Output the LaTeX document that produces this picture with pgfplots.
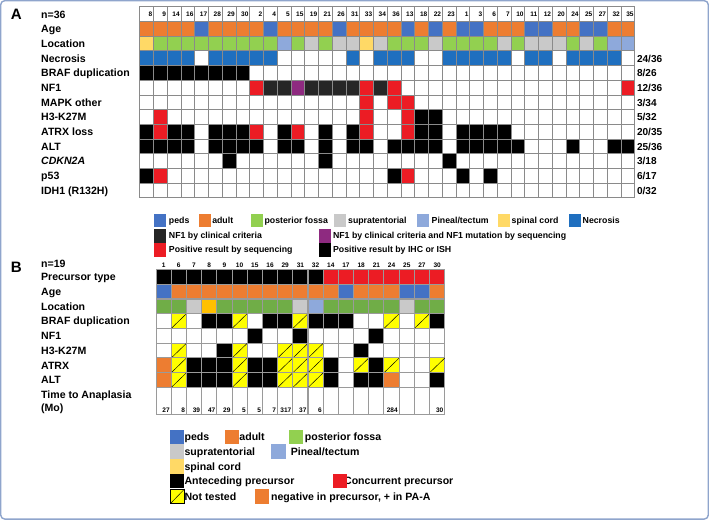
\documentclass[border=0pt]{standalone}
\usepackage{fontspec}
\setmainfont{Liberation Sans}
\setsansfont{Liberation Sans}
\usepackage{pgfplots}
\usepackage{pgfplotstable}
\pgfplotsset{compat=1.18}

\definecolor{cAdult}{HTML}{ED7D31}
\definecolor{cPeds}{HTML}{4472C4}
\definecolor{cFossa}{HTML}{92D050}
\definecolor{cFossaB}{HTML}{70AD47}
\definecolor{cSupra}{HTML}{C9C9C9}
\definecolor{cPineal}{HTML}{8EA9DB}
\definecolor{cSpinal}{HTML}{FFD966}
\definecolor{cSpinalB}{HTML}{FFC000}
\definecolor{cNecro}{HTML}{1F6FBF}
\definecolor{cNFclin}{HTML}{262626}
\definecolor{cNFboth}{HTML}{8E2A80}
\definecolor{cSeq}{HTML}{EC1C24}
\definecolor{cNT}{HTML}{FFFF00}
\definecolor{cGrid}{HTML}{8A8A8A}
\definecolor{cGridB}{HTML}{9A9A9A}
\definecolor{cFrame}{HTML}{8FA5CC}

\newcommand\fl{\fontsize{10.5}{12}\selectfont\bfseries}
\newcommand\fc{\fontsize{10}{12}\selectfont\bfseries}
\newcommand\fn{\fontsize{6.5}{7}\selectfont\bfseries}
\newcommand\fla{\fontsize{8.7}{10}\selectfont\bfseries}
\newcommand\fp{\fontsize{15}{16}\selectfont\bfseries}

% cell marks, sizes in pt (1 axis unit = 1pt)
\pgfdeclareplotmark{cellA}{\pgfpathrectangle{\pgfqpoint{-6.833pt}{-7.3pt}}{\pgfqpoint{13.667pt}{14.6pt}}\pgfusepathqfillstroke}
\pgfdeclareplotmark{cellB}{\pgfpathrectangle{\pgfqpoint{-7.55pt}{-7.33pt}}{\pgfqpoint{15.1pt}{14.66pt}}\pgfusepathqfillstroke}
\pgfdeclareplotmark{cellBx}{\pgfpathrectangle{\pgfqpoint{-7.55pt}{-7.33pt}}{\pgfqpoint{15.1pt}{14.66pt}}\pgfusepathqfillstroke
  \pgfsetlinewidth{0.45pt}\pgfsetstrokecolor{black}%
  \pgfpathmoveto{\pgfqpoint{-7.55pt}{-7.33pt}}\pgfpathlineto{\pgfqpoint{7.55pt}{7.33pt}}\pgfusepathqstroke}
\pgfdeclareplotmark{cellBt}{\pgfpathrectangle{\pgfqpoint{-7.55pt}{-13.35pt}}{\pgfqpoint{15.1pt}{26.7pt}}\pgfusepathqfillstroke}
\pgfdeclareplotmark{legA}{\pgfpathrectangle{\pgfqpoint{-6pt}{-6.75pt}}{\pgfqpoint{12pt}{13.5pt}}\pgfusepathqfill}
\pgfdeclareplotmark{legB}{\pgfpathrectangle{\pgfqpoint{-7pt}{-7.25pt}}{\pgfqpoint{14pt}{14.5pt}}\pgfusepathqfill}
\pgfdeclareplotmark{legBx}{\pgfpathrectangle{\pgfqpoint{-7pt}{-7.25pt}}{\pgfqpoint{14pt}{14.5pt}}\pgfusepathqfillstroke
  \pgfsetlinewidth{0.45pt}%
  \pgfpathmoveto{\pgfqpoint{-7pt}{-7.25pt}}\pgfpathlineto{\pgfqpoint{7pt}{7.25pt}}\pgfusepathqstroke}
\pgfdeclareplotmark{blank}{}

\tikzset{
  cA/.style={mark=cellA, draw=cGrid, line width=0.7pt},
  cB/.style={mark=cellB, draw=cGridB, line width=1pt},
  lA/.style={mark=legA},
  lB/.style={mark=legB},
  lab/.style={anchor=base west, font=\fl, inner sep=0pt},
  cnt/.style={anchor=base west, font=\fc, inner sep=0pt},
  lga/.style={anchor=base west, font=\fla, inner sep=0pt},
}

\pgfplotsset{
  clsA/.style={scatter, only marks, point meta=explicit symbolic,
    scatter/classes={
      w={cA,fill=white}, k={cA,fill=black}, r={cA,fill=cSeq},
      d={cA,fill=cNFclin}, m={cA,fill=cNFboth},
      a={cA,fill=cAdult}, p={cA,fill=cPeds},
      f={cA,fill=cFossa}, s={cA,fill=cSupra}, t={cA,fill=cPineal},
      c={cA,fill=cSpinal}, n={cA,fill=cNecro}}},
  clsB/.style={scatter, only marks, point meta=explicit symbolic,
    scatter/classes={
      w={cB,fill=white}, k={cB,fill=black}, r={cB,fill=cSeq},
      a={cB,fill=cAdult}, p={cB,fill=cPeds}, o={cB,fill=cAdult},
      f={cB,fill=cFossaB}, s={cB,fill=cSupra}, t={cB,fill=cPineal},
      c={cB,fill=cSpinalB},
      x={mark=cellBx, draw=cGridB, line width=1pt, fill=cNT}}},
  clsLA/.style={scatter, only marks, point meta=explicit symbolic,
    scatter/classes={
      p={lA,fill=cPeds}, a={lA,fill=cAdult}, f={lA,fill=cFossa},
      s={lA,fill=cSupra}, t={lA,fill=cPineal}, c={lA,fill=cSpinal},
      n={lA,fill=cNecro}, d={lA,fill=cNFclin}, m={lA,fill=cNFboth},
      r={lA,fill=cSeq}, k={lA,fill=black}}},
  clsLB/.style={scatter, only marks, point meta=explicit symbolic,
    scatter/classes={
      p={lB,fill=cPeds}, a={lB,fill=cAdult}, f={lB,fill=cFossa},
      s={lB,fill=cSupra}, t={lB,fill=cPineal}, c={lB,fill=cSpinal},
      k={lB,fill=black}, r={lB,fill=cSeq}, o={lB,fill=cAdult},
      x={mark=legBx, draw=black, line width=0.6pt, fill=cNT}}},
  numlab/.style={only marks, mark=blank, point meta=explicit symbolic,
    nodes near coords={\pgfplotspointmeta},
    every node near coord/.append style={anchor=#1, font=\fn, text=black, inner sep=0pt}},
}

% panel A: one line per tumour, in column order
% a adult, p peds | f posterior fossa, s supratentorial, t pineal/tectum, c spinal cord
% n necrosis | k IHC/ISH, r sequencing, d NF1 clinical, m NF1 clinical+sequencing, w none
\pgfplotstableread{
id Age Loc Nec BRAF NF1 MAPK H3 ATRX ALT CDKN p53 IDH
8  a c n k w w w k k w k w
9  a f n k w w r r k w r w
14 a f n k w w w k k w w w
16 a f n k w w w k k w w w
17 p f w k w w w w w w w w
28 a f n k w w w k k w w w
29 a f n k w w w k k k w w
30 a f n k w w w k k w w w
2  a f n w r w w r k w w w
4  p f n w d w w w w w w w
5  a t w w d w w k k w w w
15 a f w w m w w r k w w w
19 a s w w d w w w w w w w
21 a f w w d w w k k k w w
26 p s w w d w w w w w w w
31 a s n w d w w k k w w w
33 a c w w r r r r k w w w
34 a s n w d w w w w w w w
36 a f n w r r w w k w k w
13 p f n w w r r r k w r w
18 a f w w w w k k k w w w
22 p s w w w w k k k w w w
23 a f n w w w w w w k w w
1  p f n w w w w k k w k w
3  p f n w w w w k k w w w
6  a f n w w w w k k w k w
7  a s n w w w w k k w w w
10 a f w w w w w w k w w w
11 p s n w w w w w w w w w
12 p s n w w w w w w w w w
20 a s w w w w w w w w w w
24 a f n w w w w w k w w w
25 p s n w w w w w w w w w
27 p f n w w w w w w w w w
32 a t n w w w w w k w w w
35 a t w w r w w w k w w w
}\tabA

% panel B: k anteceding / r concurrent precursor, x not tested, o negative in precursor
\pgfplotstableread{
id Pre Age Loc BRAF NF1 H3 ATRX ALT
1  k p f w w w o o
6  k a f x w x x x
7  k a s w w w k k
8  k a c k w w k k
9  k a f k w k k k
10 k a f x w x x x
15 k a f w k w k k
16 k a f k w w k k
29 k a f k w x x x
31 k a s x k x x x
32 k a t k w x x x
14 r a f k w w k k
17 r p f k w w w w
18 r a f w w k x k
21 r a f w k w k k
24 r a f x w w x o
25 r p s w w w w w
27 r p f x w w w w
30 r a f k w w x k
}\tabB

% time to anaplasia (months), by column of panel B
\pgfplotstableread{
c t
1 27
2 8
3 39
4 47
5 29
6 5
7 5
8 7
9 317
10 37
11 6
16 284
19 30
}\tabT

\pgfplotstableread{
x y c
161 221.5 p
206 221.5 a
258 221.5 f
340.5 221.5 s
423 221.5 t
503 221.5 c
574 221.5 n
161 236.5 d
325 236.5 m
161 250.5 r
325 250.5 k
}\legAtab

\pgfplotstableread{
x y c
178.5 436.5 p
232.5 436.5 a
296.5 436.5 f
178.5 451 s
279 451 t
178.5 465.5 c
178.5 480 k
339.7 480 r
178.5 495.5 x
263 495.5 o
}\legBtab

\begin{document}
\begin{tikzpicture}
\begin{axis}[
  scale only axis, width=709pt, height=521pt,
  xmin=0, xmax=709, ymin=0, ymax=521, y dir=reverse,
  hide axis, clip=false,
]
\draw[cFrame, line width=1.4pt, rounded corners=4pt] (axis cs:3,3) rectangle (axis cs:706,518);

% ---------- panel A ----------
\node[anchor=base west, font=\fp, inner sep=0pt] at (axis cs:13,21.5) {A};
\node[lab] at (axis cs:43,20.5) {n=36};
\node[lab] at (axis cs:43,34.7) {Age};
\node[lab] at (axis cs:43,49.3) {Location};
\node[lab] at (axis cs:43,63.9) {Necrosis};
\node[lab] at (axis cs:43,78.5) {BRAF duplication};
\node[lab] at (axis cs:43,93.1) {NF1};
\node[lab] at (axis cs:43,107.7) {MAPK other};
\node[lab] at (axis cs:43,122.3) {H3-K27M};
\node[lab] at (axis cs:43,136.9) {ATRX loss};
\node[lab] at (axis cs:43,151.5) {ALT};
\node[lab, font=\fl\itshape] at (axis cs:43,166.1) {CDKN2A};
\node[lab] at (axis cs:43,180.7) {p53};
\node[lab] at (axis cs:43,195.3) {IDH1 (R132H)};

\node[cnt] at (axis cs:635,63.9) {24/36};
\node[cnt] at (axis cs:635,78.5) {8/26};
\node[cnt] at (axis cs:635,93.1) {12/36};
\node[cnt] at (axis cs:635,107.7) {3/34};
\node[cnt] at (axis cs:635,122.3) {5/32};
\node[cnt] at (axis cs:635,136.9) {20/35};
\node[cnt] at (axis cs:635,151.5) {25/36};
\node[cnt] at (axis cs:635,166.1) {3/18};
\node[cnt] at (axis cs:635,180.7) {6/17};
\node[cnt] at (axis cs:635,195.3) {0/32};

\addplot[only marks, mark=cellA, mark options={fill=white, draw=cGrid, line width=0.7pt}]
  table[x expr=141+(\coordindex+0.5)*13.667, y expr=16.3]{\tabA};
\addplot[numlab=base east] table[x expr=141+(\coordindex+1)*13.667-1, y expr=18.7, meta=id]{\tabA};
\addplot[clsA] table[x expr=141+(\coordindex+0.5)*13.667, y expr=30.9, meta=Age]{\tabA};
\addplot[clsA] table[x expr=141+(\coordindex+0.5)*13.667, y expr=45.5, meta=Loc]{\tabA};
\addplot[clsA] table[x expr=141+(\coordindex+0.5)*13.667, y expr=60.1, meta=Nec]{\tabA};
\addplot[clsA] table[x expr=141+(\coordindex+0.5)*13.667, y expr=74.7, meta=BRAF]{\tabA};
\addplot[clsA] table[x expr=141+(\coordindex+0.5)*13.667, y expr=89.3, meta=NF1]{\tabA};
\addplot[clsA] table[x expr=141+(\coordindex+0.5)*13.667, y expr=103.9, meta=MAPK]{\tabA};
\addplot[clsA] table[x expr=141+(\coordindex+0.5)*13.667, y expr=118.5, meta=H3]{\tabA};
\addplot[clsA] table[x expr=141+(\coordindex+0.5)*13.667, y expr=133.1, meta=ATRX]{\tabA};
\addplot[clsA] table[x expr=141+(\coordindex+0.5)*13.667, y expr=147.7, meta=ALT]{\tabA};
\addplot[clsA] table[x expr=141+(\coordindex+0.5)*13.667, y expr=162.3, meta=CDKN]{\tabA};
\addplot[clsA] table[x expr=141+(\coordindex+0.5)*13.667, y expr=176.9, meta=p53]{\tabA};
\addplot[clsA] table[x expr=141+(\coordindex+0.5)*13.667, y expr=191.5, meta=IDH]{\tabA};

% legend A
\addplot[clsLA] table[x=x, y=y, meta=c]{\legAtab};
\node[lga] at (axis cs:170,224.6) {peds};
\node[lga] at (axis cs:213,224.6) {adult};
\node[lga] at (axis cs:265,224.6) {posterior fossa};
\node[lga] at (axis cs:348,224.6) {supratentorial};
\node[lga] at (axis cs:431,224.6) {Pineal/tectum};
\node[lga] at (axis cs:510.5,224.6) {spinal cord};
\node[lga] at (axis cs:581,224.6) {Necrosis};
\node[lga] at (axis cs:170,239.6) {NF1 by clinical criteria};
\node[lga] at (axis cs:333,239.6) {NF1 by clinical criteria and NF1 mutation by sequencing};
\node[lga] at (axis cs:170,253.6) {Positive result by sequencing};
\node[lga] at (axis cs:333,253.6) {Positive result by IHC or ISH};

% ---------- panel B ----------
\node[anchor=base west, font=\fp, inner sep=0pt] at (axis cs:13,273.5) {B};
\node[lab] at (axis cs:43,268.5) {n=19};
\node[lab] at (axis cs:43,281.1) {Precursor type};
\node[lab] at (axis cs:43,295.8) {Age};
\node[lab] at (axis cs:43,310.5) {Location};
\node[lab] at (axis cs:43,325.1) {BRAF duplication};
\node[lab] at (axis cs:43,339.8) {NF1};
\node[lab] at (axis cs:43,354.5) {H3-K27M};
\node[lab] at (axis cs:43,369.1) {ATRX};
\node[lab] at (axis cs:43,383.8) {ALT};
\node[lab] at (axis cs:43,398.3) {Time to Anaplasia};
\node[lab] at (axis cs:43,411) {(Mo)};

\addplot[numlab=base] table[x expr=157.3+(\coordindex+0.5)*15.1, y expr=268, meta=id]{\tabB};
\addplot[clsB] table[x expr=157.3+(\coordindex+0.5)*15.1, y expr=277.3, meta=Pre]{\tabB};
\addplot[clsB] table[x expr=157.3+(\coordindex+0.5)*15.1, y expr=292, meta=Age]{\tabB};
\addplot[clsB] table[x expr=157.3+(\coordindex+0.5)*15.1, y expr=306.7, meta=Loc]{\tabB};
\addplot[clsB] table[x expr=157.3+(\coordindex+0.5)*15.1, y expr=321.3, meta=BRAF]{\tabB};
\addplot[clsB] table[x expr=157.3+(\coordindex+0.5)*15.1, y expr=336, meta=NF1]{\tabB};
\addplot[clsB] table[x expr=157.3+(\coordindex+0.5)*15.1, y expr=350.7, meta=H3]{\tabB};
\addplot[clsB] table[x expr=157.3+(\coordindex+0.5)*15.1, y expr=365.3, meta=ATRX]{\tabB};
\addplot[clsB] table[x expr=157.3+(\coordindex+0.5)*15.1, y expr=380, meta=ALT]{\tabB};
\addplot[only marks, mark=cellBt, mark options={fill=white, draw=cGridB, line width=1pt}]
  table[x expr=157.3+(\coordindex+0.5)*15.1, y expr=400.7]{\tabB};
\addplot[numlab=base east] table[x expr=157.3+\thisrow{c}*15.1-1.3, y expr=412, meta=t]{\tabT};

% legend B
\addplot[clsLB] table[x=x, y=y, meta=c]{\legBtab};
\node[lab] at (axis cs:185.5,440.3) {peds};
\node[lab] at (axis cs:240,440.3) {adult};
\node[lab] at (axis cs:305,440.3) {posterior fossa};
\node[lab] at (axis cs:185.5,454.8) {supratentorial};
\node[lab] at (axis cs:291,454.8) {Pineal/tectum};
\node[lab] at (axis cs:185.5,469.3) {spinal cord};
\node[lab] at (axis cs:185.5,483.8) {Anteceding precursor};
\node[lab] at (axis cs:344,483.8) {Concurrent precursor};
\node[lab] at (axis cs:185.5,499.3) {Not tested};
\node[lab] at (axis cs:271.5,499.3) {negative in precursor, + in PA-A};
\end{axis}
\end{tikzpicture}
\end{document}
